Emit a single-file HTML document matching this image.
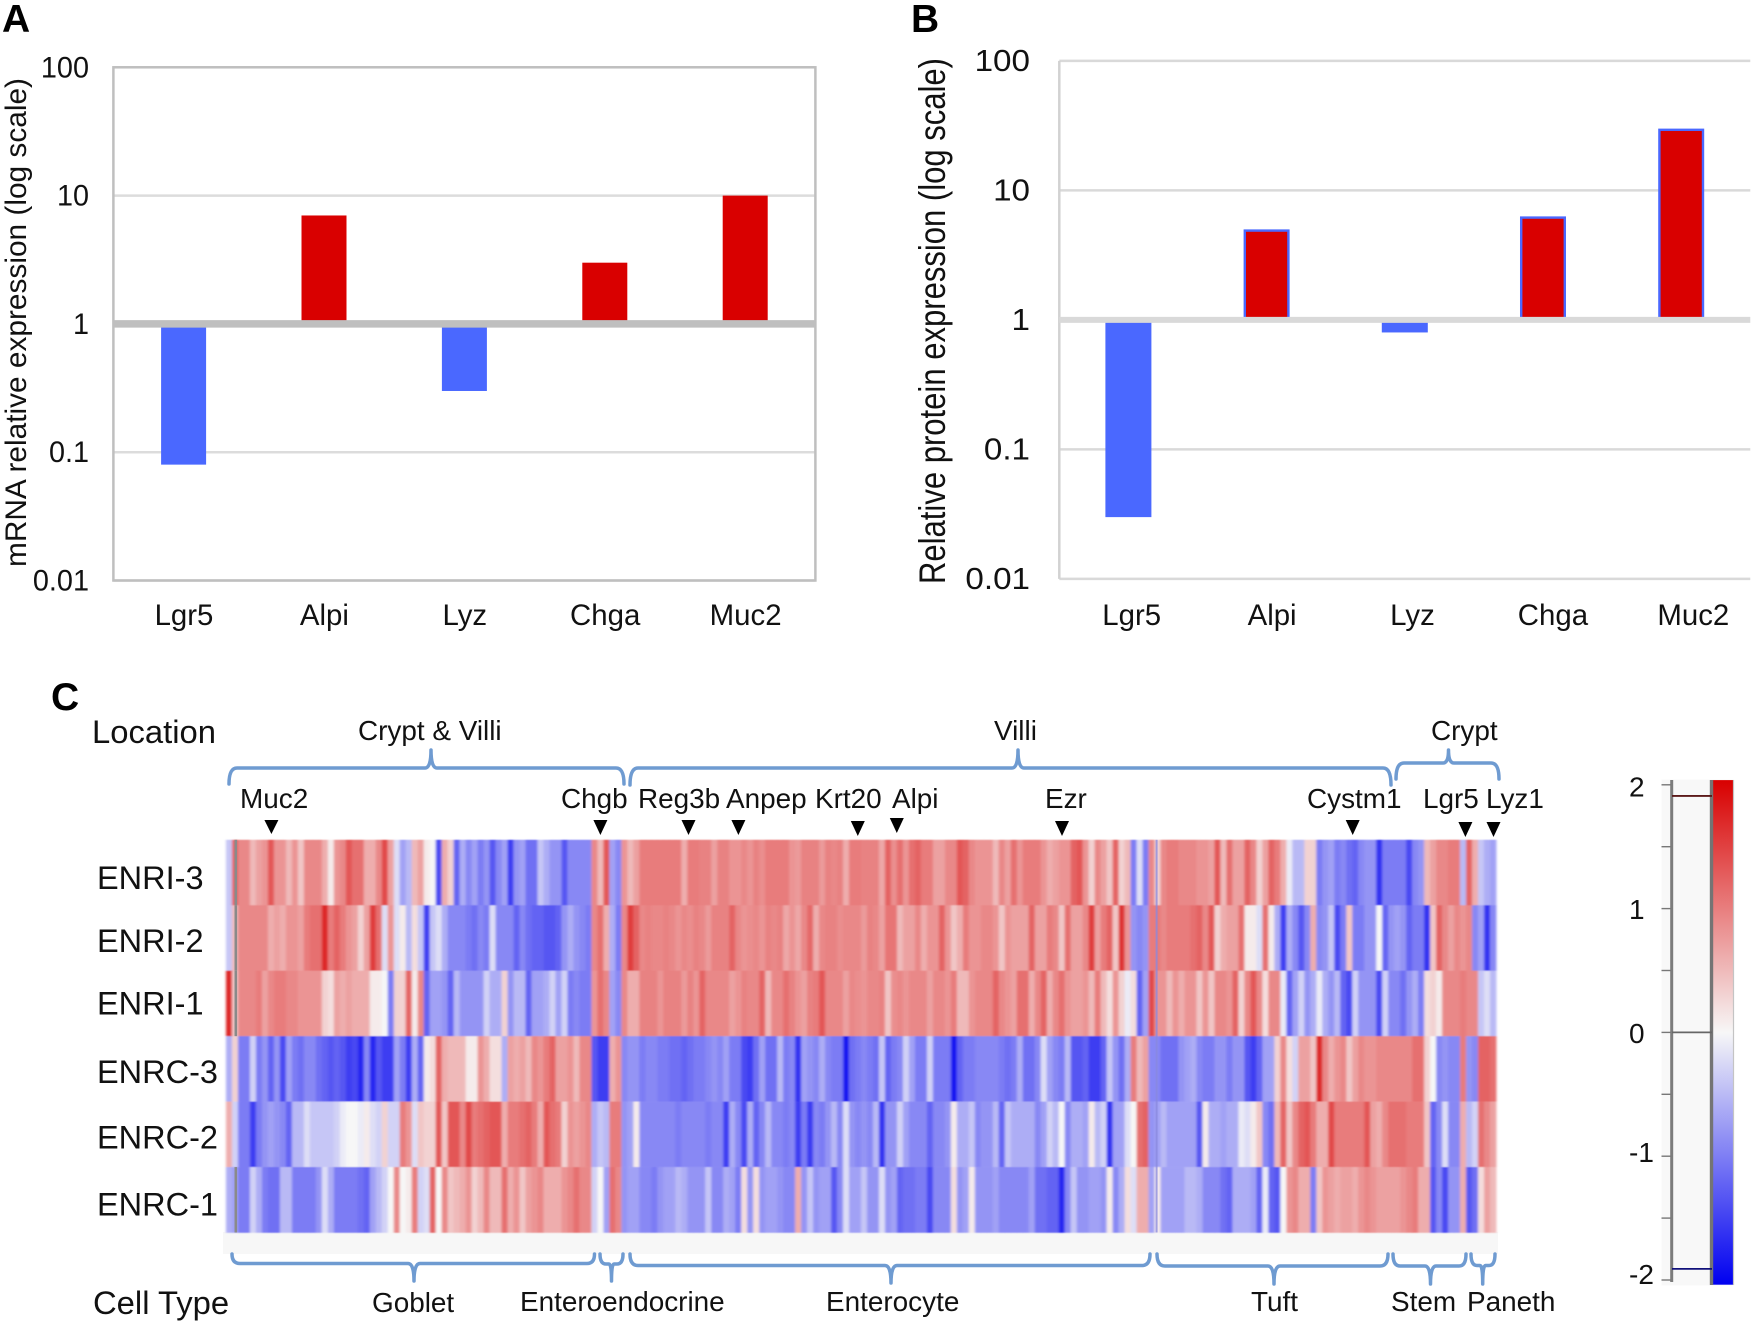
<!DOCTYPE html>
<html lang="en">
<head>
<meta charset="utf-8">
<title>mRNA and protein expression with heatmap</title>
<style>
html,body{margin:0;padding:0;background:#fff;}
svg{display:block;}
text{font-family:"Liberation Sans",sans-serif;fill:#111;}
.brace{fill:none;stroke:#6f9bd1;stroke-width:3.5;stroke-linejoin:round;stroke-linecap:round;}
.panel{font-weight:bold;font-size:39px;fill:#000;}
.big{font-size:32.8px;}
.mid{font-size:27.9px;}
</style>
</head>
<body>
<svg id="fig" xmlns="http://www.w3.org/2000/svg" width="1753" height="1325" viewBox="0 0 1753 1325">
  <defs>
    <filter id="soft" filterUnits="userSpaceOnUse" x="215" y="830" width="1295" height="412">
      <feGaussianBlur stdDeviation="1.2 0.4"/>
    </filter>
    <linearGradient id="cbar-grad" x1="0" y1="0" x2="0" y2="1"></linearGradient>
  </defs>
  <rect x="0" y="0" width="1753" height="1325" fill="#fff"/>

  <text class="panel" x="2" y="32">A</text>
  <text class="panel" x="911" y="32">B</text>
  <text class="panel" x="51" y="710">C</text>

  <g id="chart-a"></g>
  <g id="chart-b"></g>

  <text transform="translate(26,567) rotate(-90)" font-size="30" textLength="489" lengthAdjust="spacingAndGlyphs">mRNA relative expression (log scale)</text>
  <text transform="translate(945,584) rotate(-90)" font-size="37" textLength="526" lengthAdjust="spacingAndGlyphs">Relative protein expression (log scale)</text>

  <text class="big" x="92" y="743">Location</text>
  <text class="big" x="93" y="1314">Cell Type</text>

  <text class="mid" x="358" y="740">Crypt &amp; Villi</text>
  <text class="mid" x="994" y="740">Villi</text>
  <text class="mid" x="1431" y="740">Crypt</text>

  <path class="brace" d="M229 784 Q229 768 237 768 L425 768 Q431 768 431 750 Q431 768 437 768 L616 768 Q624 768 624 784"/>
  <path class="brace" d="M630 785 Q630 768 638 768 L1012 768 Q1018 768 1018 750 Q1018 768 1024 768 L1383 768 Q1391 768 1391 785"/>
  <path class="brace" d="M1396 779 Q1396 763 1404 763 L1443 763 Q1448.500 763 1448.500 750 Q1448.500 763 1454 763 L1491 763 Q1499 763 1499 779"/>

  <g>
    <text class="mid" x="240" y="808">Muc2</text>
    <text class="mid" x="561" y="808">Chgb</text>
    <text class="mid" x="638" y="808">Reg3b</text>
    <text class="mid" x="726" y="808">Anpep</text>
    <text class="mid" x="815" y="808">Krt20</text>
    <text class="mid" x="892" y="808">Alpi</text>
    <text class="mid" x="1045" y="808">Ezr</text>
    <text class="mid" x="1307" y="808">Cystm1</text>
    <text class="mid" x="1423" y="808">Lgr5</text>
    <text class="mid" x="1486" y="808">Lyz1</text>
  </g>
  <g fill="#000">
    <polygon points="264.400,820 278.400,820 271.400,834"/>
    <polygon points="593.400,820 607.400,820 600.400,835"/>
    <polygon points="681.500,820 695.500,820 688.500,835"/>
    <polygon points="731.400,820 745.400,820 738.400,835"/>
    <polygon points="850.800,821 864.800,821 857.800,836"/>
    <polygon points="889.800,818 903.800,818 896.800,833"/>
    <polygon points="1055,821 1069,821 1062,836"/>
    <polygon points="1345.700,820 1359.700,820 1352.700,835"/>
    <polygon points="1458.400,822 1472.400,822 1465.400,837"/>
    <polygon points="1486.500,822 1500.500,822 1493.500,837"/>
  </g>

  <rect x="223" y="1232" width="1275" height="22" fill="#f7f7f7"/>
  <g id="heatmap"></g>

  <path class="brace" d="M232 1254 Q232 1263.500 240 1263.500 L408 1263.500 Q414 1263.500 414 1281 Q414 1263.500 420 1263.500 L587 1263.500 Q594.500 1263.500 594.500 1254"/>
  <path class="brace" d="M600 1254 Q600 1264 606 1264 L609 1264 Q611.500 1264 611.500 1281 Q611.500 1264 614 1264 L617 1264 Q623 1264 623 1254"/>
  <path class="brace" d="M630 1254 Q630 1265.500 638 1265.500 L885 1265.500 Q891 1265.500 891 1283 Q891 1265.500 897 1265.500 L1142 1265.500 Q1150 1265.500 1150 1254"/>
  <path class="brace" d="M1157 1254 Q1157 1266 1165 1266 L1268 1266 Q1274 1266 1274 1284 Q1274 1266 1280 1266 L1380 1266 Q1388 1266 1388 1254"/>
  <path class="brace" d="M1393 1254 Q1393 1266 1400 1266 L1425 1266 Q1430.500 1266 1430.500 1284 Q1430.500 1266 1436 1266 L1459 1266 Q1466 1266 1466 1254"/>
  <path class="brace" d="M1471 1254 Q1471 1265.500 1477 1265.500 L1480 1265.500 Q1482.700 1265.500 1482.700 1284 Q1482.700 1265.500 1485.500 1265.500 L1489 1265.500 Q1495 1265.500 1495 1254"/>

  <text class="mid" x="372" y="1312">Goblet</text>
  <text class="mid" x="520" y="1311">Enteroendocrine</text>
  <text class="mid" x="826" y="1311">Enterocyte</text>
  <text class="mid" x="1251" y="1311">Tuft</text>
  <text class="mid" x="1391" y="1311">Stem</text>
  <text class="mid" x="1467" y="1311">Paneth</text>

  <g id="colorbar"></g>
</svg>

<script>
// ---- Panel A / B data ----
const geneCategories = ['Lgr5', 'Alpi', 'Lyz', 'Chga', 'Muc2'];
const mrnaValues = [0.08, 7, 0.3, 3, 10];
const proteinValues = [0.03, 5, 0.8, 6.3, 30];
const logTicks = [100, 10, 1, 0.1, 0.01];
const logTickLabels = ['100', '10', '1', '0.1', '0.01'];

// ---- Panel C data: one value per gene column (log-ratio scale) ----
const sampleNames = ['ENRI-3', 'ENRI-2', 'ENRI-1', 'ENRC-3', 'ENRC-2', 'ENRC-1'];
const enri3 = [
-.4,1.2,.9,.9,.5,.7,.8,1.3,.8,.8,.5,.8,.4,.9,.9,.9,.6,.1,.8,.9,1.3,1.1,1.1,.6,.6,.9,1.4,.7,-.2,-.7,-.5,.5,.7,.1,0,-1.4,.6,.3,-1.2,-.6,-.9,-.7,-1,-.8,-1.3,-.9,-.7,-1.5,-.8,
-.7,-1.1,-1.1,-.4,-.6,-.8,-.8,-1.3,-.9,-.9,-.9,-.9,.9,.5,1.3,-.7,-.9,.8,.5,.7,1,1,1,1,1,1,1,.6,1,1,
.95,.95,.7,.95,.95,.8,.8,.9,.8,.95,.85,1,1,1,1,.8,.75,.95,.95,.95,.75,.95,.9,.95,.6,1,1,.95,.95,.95,.65,1.2,.85,
1.1,.8,1.1,1.2,1,1,.7,.7,.9,.9,1.3,1.2,.9,.8,.8,.8,.5,.9,.7,1.1,.8,1,1,1,.8,.6,.7,.8,.8,1.2,1.3,.8,.3,.9,
.7,.4,1.2,.3,.5,-1,-.2,-1,.9,.3,.9,1,1,.9,.9,.9,.8,.8,.7,1.3,.5,1.1,.7,.7,1.2,.9,.3,.7,1.2,1,.6,-.1,-.5,
-.5,.3,.3,-1,-.8,-.7,-1,-.9,-1.1,-1.2,-.9,-.8,-.8,-1.6,-1,-1,-1,-1,-1.4,-.9,-.8,.5,.7,.9,.9,1,1,-.5,1.2,.6,-.4,-.6,-.7];
const enri2 = [
-.4,.5,.9,.9,.9,.9,.9,.6,.7,.6,.8,.8,.7,1,1.1,1.1,1.7,1,1.2,1,.8,.7,.3,.7,1.5,1.1,-.2,.8,-.2,.1,-.5,.2,-.4,-1.5,-.4,-.2,-.6,-.9,-.9,-.9,-1,-1.1,-.9,-1,-.2,-.9,-.9,-.9,-1.2,
-.9,-1.1,-1.2,-1.2,-1.3,-1.3,-1.2,-.8,-.6,-.8,-.9,-1,.9,1.1,.6,-.6,-1,.9,1.5,1.2,.9,.95,.9,.9,.95,.9,.8,.9,.85,.95,
.9,.75,.95,.95,.95,1.2,.9,.8,.85,.9,.8,.95,.9,.95,.65,.8,.65,.9,1.15,.6,.9,.95,.95,.85,.9,.9,.9,.75,.95,.9,.7,1.05,1.05,
.5,.7,.7,.9,.6,.8,.8,1.2,.8,.4,.6,1,.8,.8,.9,.9,.8,.4,.8,.7,.7,.7,1.2,.7,.7,1,.9,.4,1.1,.7,.7,.9,1.5,.7,
1,1.2,.4,1.6,.8,-.8,-.9,-.8,1,1,.9,1,1,1,1,1.1,1.2,.9,1.3,.3,.6,.7,.7,1.1,.1,.1,-.2,1.1,.1,-.6,-1.5,-.6,-.9,
-1.3,-.9,.6,-.9,-.8,-.4,-1.4,-1,.4,-1,-1,-.8,-.8,0,-1.2,-.8,-.7,-.8,-1.2,-1,-1,-1.6,.4,1.2,.9,.7,.9,.8,.9,-.9,-.7,-1.6,-.9];
const enri1 = [
1.7,.4,.9,.9,.9,1,.7,.9,1,1,.9,.9,.8,.8,.8,.8,.3,.2,.7,.6,.7,.6,.6,.6,.1,.1,0,-1,.3,.3,1.2,.1,.9,-1.2,-.7,-.7,-.8,-1.2,-.5,-.8,-.8,-.8,-.8,-.3,-.6,-.6,.3,-.8,-.5,
-.5,-1.2,-.7,-.7,-.6,-.3,-.7,-.3,-1,-.9,-1,-1,.8,1.1,.9,-.7,-.9,.9,.6,.6,.95,.95,.95,.8,.95,.95,.95,.75,.95,.8,
1.2,.9,.9,.9,.9,.7,.8,.95,.9,.9,1.2,.5,.9,.9,1.1,.95,.8,.7,.95,1,1.3,.9,.9,.9,.7,.9,.85,.8,.9,.9,.95,.4,.85,
.9,.8,.9,.9,.9,.7,.9,.9,.8,1,.5,.5,.8,.9,.9,.9,1.2,.9,.8,.7,1.1,1.1,.6,.9,1.2,.6,.9,1.1,.8,.7,.7,.8,.5,1,
.5,.2,.8,.3,-.1,.2,-1.2,-.7,1.4,.8,.8,.5,.8,.6,.8,.8,.4,.8,.4,.9,.9,.8,1.2,.3,.9,1.3,.9,.2,.9,.9,-.1,-1.2,-.7,
-.3,-.8,-.6,-.1,-.6,-.8,-.5,-1.2,-1.4,-.3,-.8,-.8,-.8,-1.4,-.3,-.9,-.9,-1.1,-.8,-.6,-1,.2,.3,.1,.9,.9,.9,1,.9,.9,-.4,-.2,-.5];
const enrc3 = [
-.6,.3,-1,-1,-.3,-1,-.8,-1.2,-.8,-1.4,-.7,-1,-1.1,-.9,-.9,-1.1,-1.2,-1.3,-1.2,-1.3,-1.5,-1.4,-1.7,-.9,-1.7,-1.3,-1.5,-1.5,-.7,-1,-1.5,-.6,-1.2,.1,.2,1.2,.6,.5,.5,.5,.1,.1,.8,.6,.2,.2,-.6,.7,.6,
.7,.5,.9,.8,1,1.2,.7,.7,.8,.5,.9,.9,-1.3,-1.5,-1.5,.6,.8,-.9,-.8,-.8,-1,-.9,-.9,-1,-1,-1.1,-1.1,-1.2,-1.1,-1,
-1,-.9,-.8,-.9,-.7,-1,-1,-1.4,-1.5,-1.1,-.7,-1.1,-1.1,-.5,-1,-.9,-1.6,-.7,-.8,-.9,-.6,-.9,-1,-1,-1.8,-1.1,-1,-.9,-1,-1.1,-.4,-1.2,-1,
-.9,-.3,-.7,-1,-1,-.3,-1,-1,-1,-1.8,-1.2,-1,-1,-.9,-.9,-.9,-.9,-1,-1.1,-1,-.6,-1.1,-1.1,-.9,-.2,-.7,-.9,-1,-.5,-1.3,-1.3,-1.2,-1.5,-1.5,
-1.2,-.4,-.8,-1.1,-.6,1,.5,.7,-.9,-.9,-1.1,-1.1,-1.1,-.8,-.7,-.6,-.9,-1,-1,-.8,-.8,-1,-.8,-.8,-1.3,-1.5,-1.2,-.7,-.7,.3,.9,.2,-.3,
.7,.7,.4,1.7,.9,.6,.8,.9,.4,.7,.9,.8,.8,.9,.9,.9,.9,.9,.9,1.1,1.1,.3,0,-.9,-.8,-.9,-.9,1,-.8,-.9,1.2,1.2,1.1];
const enrc2 = [
.6,-.3,-1,-1,-1.5,-1,-.8,-.7,-.8,-.9,-1.2,-.5,-.5,-.2,-.4,-.4,-.4,-.4,-.3,-.1,0,0,-.1,.1,-.2,-.3,.3,-.3,-.3,1,.8,-.2,.4,.3,.3,1.3,.4,1.3,1.3,.9,1.4,1,1.1,1.2,1.3,1.3,.6,1,1,
1.1,1.2,1,.6,1.3,1.1,1,.3,.8,.7,.8,.9,-.6,-.4,-.5,1,1,-.8,-.7,.1,-.9,-.9,-.9,-.9,-.9,-.9,-1,-.9,-.9,-.9,
-.9,-1,-.9,-.9,-1.5,-.6,-.9,-1.4,-.6,-1.2,-.9,-.5,-.9,-.9,-1,-.9,-1.5,-1,-1.5,-.9,-1,-.8,-.5,-.9,-.2,-.8,-.9,-.8,-.9,-.5,-1.6,-.8,-.8,
-.3,-.7,-.9,-.9,-.9,-1.2,-.9,-.9,-.8,.1,-.6,-.6,-.4,-.9,-.8,-.8,-.5,-1.2,-.4,-.6,-.6,-.6,-.6,-.9,-.7,-.3,-.5,0,-.9,-.6,-.6,-.7,.1,-.5,
-.3,-1.6,-.7,-.7,-.2,0,1.1,1.2,-.8,-.7,-.5,-.7,-.7,-.7,-.7,-.7,-1.3,.1,-.6,-.6,-.7,-.6,-.6,-.1,-.2,.1,.4,-.9,-1.1,.5,1.2,.4,.9,
1.2,1.3,1,.6,.6,1.4,1,1,1,1,1,1.3,.7,.6,.9,1.1,1.1,1.1,1,1,1,.4,-1.2,-.9,-.2,-.9,-.9,.6,-.5,-.3,1.1,.9,.7];
const enrc1 = [
-.6,-.7,-1,-1,-.3,-.6,-1,-1.1,-1.1,-.5,-.5,-1,-1,-1,-1,-.8,-.2,-.6,-1,-1,-1,-1,-1.1,-1.2,-.7,-.5,-.3,0,.9,0,.1,1,-.3,-.2,1.2,0,.9,.4,.5,.6,.8,.3,.5,.9,.5,.5,1.1,.6,.8,
.4,.7,.8,.9,.6,.6,.6,.8,.9,1.1,.9,.9,-.3,0,-.7,1.1,.9,-.8,-.7,-.7,-.9,-.9,-1,-.8,-.7,-.7,-.5,-.6,-.8,-.8,
-.8,-.4,-.9,-.9,-.6,-.7,-1,.2,-.8,.2,-.8,-.7,-.7,-.8,-.9,-.9,.6,-.8,-.4,-.8,-.7,-.7,-1.3,-.9,-.2,-.7,-.7,-.4,-.8,-.8,-.2,-.8,-.7,
-1.2,-1.1,-1.1,-1,-1,-1.4,-.9,-.9,-.9,.2,-.8,-.7,.1,-.8,-.8,-.8,-.7,-.9,-.9,-.9,-.9,-.9,-.7,-1.1,-1.1,-1.2,-1.2,-1.7,-.9,-.4,-.8,-.8,-.7,-.7,
-.8,.1,-.9,-.6,.2,-.2,.6,.6,-.7,.1,-.7,-.7,-.7,-.7,-.5,-.5,-.6,-.9,-.9,-.9,-1.1,-1.2,-.6,-.6,-.6,-.7,-1.2,-.1,-1.2,-1.3,0,.8,.9,
.6,.6,-1,.4,.8,.7,.6,.7,.7,.6,.8,.9,.8,.7,.7,.7,.7,.8,.9,1,.6,.6,-1.3,-.9,-1.4,-.8,-.8,.6,-1.3,-1.1,.2,.7,.5];
const sampleRows = [enri3, enri2, enri1, enrc3, enrc2, enrc1];
const scaleTicks = [2, 1.5, 1, 0.5, 0, -0.5, -1, -1.5, -2];
const scaleTickLabels = ['2', '', '1', '', '0', '', '-1', '', '-2'];
const scaleMarkers = [1.91, 0, -1.91];

const NS = 'http://www.w3.org/2000/svg';
function mk(parent, tag, attrs, txt) {
  const el = document.createElementNS(NS, tag);
  for (const k in attrs) el.setAttribute(k, attrs[k]);
  if (txt !== undefined) el.textContent = txt;
  parent.appendChild(el);
  return el;
}
function stretch(el, k) {
  el.setAttribute('textLength', (el.getComputedTextLength() * k).toFixed(1));
  el.setAttribute('lengthAdjust', 'spacingAndGlyphs');
}

// ---- Log-scale bar charts ----
function drawBars(root, cfg, values) {
  const y = v => cfg.y1 - cfg.decade * Math.log10(v);
  const band = (cfg.right - cfg.left) / geneCategories.length;
  const x = i => cfg.left + band * (i + 0.5);

  logTicks.forEach((t, i) => {
    const isOne = t === 1;
    if (!isOne) {
      const g = mk(root, 'line', {x1: cfg.left, x2: cfg.right, y1: y(t), y2: y(t), stroke: cfg.gridColor, 'stroke-width': 2.5});
      
      
    }
    const lab = mk(root, 'text', {x: cfg.tickRight, y: y(t) + cfg.tickDy, 'font-size': cfg.tickFont, 'text-anchor': 'end'}, logTickLabels[i]);
    
    
    stretch(lab, cfg.tickStretch);
  });

  if (cfg.boxed) {
    const b = mk(root, 'rect', {x: cfg.left, y: y(100), width: cfg.right - cfg.left, height: y(0.01) - y(100), fill: 'none', stroke: cfg.axisColor, 'stroke-width': 2.5});
    
    
  } else {
    const a = mk(root, 'line', {x1: cfg.left, x2: cfg.left, y1: y(100), y2: y(0.01), stroke: cfg.axisColor, 'stroke-width': 2.5});
    
    
  }

  values.forEach((v, i) => {
    const up = v >= 1;
    const top = Math.min(y(v), y(1));
    const h = Math.abs(y(v) - y(1));
    const attrs = {x: x(i) - cfg.barW / 2, y: top, width: cfg.barW, height: h, fill: up ? '#d90000' : '#4a68ff'};
    if (cfg.outline && up) {
      attrs.x += 1.2; attrs.width -= 2.4; attrs.y += 1.2; attrs.height -= 1.2;
      attrs.stroke = '#4a68ff';
      attrs['stroke-width'] = 2.4;
    }
    const bar = mk(root, 'rect', attrs);
    
    
    const lab = mk(root, 'text', {x: cfg.labelStart + cfg.labelStep * i, y: 625, 'font-size': 30, 'text-anchor': 'middle'}, geneCategories[i]);
    
    
    stretch(lab, 0.98);
  });

  const base = mk(root, 'line', {x1: cfg.left, x2: cfg.right, y1: y(1), y2: y(1), stroke: cfg.baseColor, 'stroke-width': cfg.baseW});
  
  
}

drawBars(document.getElementById('chart-a'), {
  left: 113.4, right: 815.4, y1: 323.9, decade: 128.3, barW: 45,
  tickRight: 89, tickDy: 10, tickFont: 30, tickStretch: 0.96, labelStart: 184, labelStep: 140.4,
  gridColor: '#dcdcdc', axisColor: '#bfbfbf', baseColor: '#bfbfbf', baseW: 7.5,
  boxed: true, outline: false
}, mrnaValues);

drawBars(document.getElementById('chart-b'), {
  left: 1059.3, right: 1750.3, y1: 319.9, decade: 129.5, barW: 46,
  tickRight: 1030, tickDy: 10, tickFont: 31, tickStretch: 1.07, labelStart: 1131.7, labelStep: 140.4,
  gridColor: '#d9d9d9', axisColor: '#d2d2d2', baseColor: '#d9d9d9', baseW: 6,
  boxed: false, outline: true
}, proteinValues);

// ---- Heatmap ----
const WHITE = [247, 247, 247], RED = [216, 0, 0], BLUE = [0, 0, 240];
function colorOf(v) {
  const t = Math.min(1, Math.abs(v) / 2);
  const end = v >= 0 ? RED : BLUE;
  const c = WHITE.map((w, i) => Math.round(w + (end[i] - w) * t));
  return 'rgb(' + c.join(',') + ')';
}
const hm = document.getElementById('heatmap');
const hmGroup = mk(hm, 'g', {filter: 'url(#soft)'});


const HX = 226, HW = 1270, HY = 839.8, RH = 65.45;
sampleRows.forEach((row, r) => {
  const cw = HW / row.length;
  row.forEach((v, c) => {
    const cell = mk(hmGroup, 'rect', {x: (HX + c * cw).toFixed(2), y: (HY + r * RH).toFixed(2), width: (cw + 0.4).toFixed(2), height: (RH + 0.3).toFixed(2), fill: colorOf(v)});
    
    
  });
  const lab = mk(hm, 'text', {x: 97, y: [889, 952, 1014.5, 1083, 1148.5, 1215.5][r], 'font-size': 32.5}, sampleNames[r]);
  
  
});
[0, 1, 2, 5].forEach(r => {
  const s = mk(hm, 'rect', {x: 234.5, y: HY + r * RH, width: 2.6, height: RH, fill: '#8a8a8a'});
  
  
});
const sep = mk(hm, 'rect', {x: 1155.6, y: HY, width: 2, height: RH * 6, fill: '#8888dd', opacity: 0.75});



// ---- Colour scale ----
const cb = document.getElementById('colorbar');
const cbY = v => 1032.4 - 123.8 * v;
const grad = document.getElementById('cbar-grad');
scaleTicks.forEach((v, i) => {
  mk(grad, 'stop', {offset: (i / (scaleTicks.length - 1)), 'stop-color': colorOf(v)});
});
const strip = mk(cb, 'rect', {x: 1661.5, y: 779.5, width: 72, height: 506, fill: '#f8f8f8'});


const cbar = mk(cb, 'rect', {x: 1712.7, y: cbY(2) - 4.7, width: 20.6, height: cbY(-2) - cbY(2) + 9.4, fill: 'url(#cbar-grad)'});


const edge = mk(cb, 'line', {x1: 1733.5, x2: 1733.5, y1: 780, y2: 1285, stroke: '#c4c4c4', 'stroke-width': 1.2});


const axisL = mk(cb, 'line', {x1: 1671.7, x2: 1671.7, y1: 780, y2: 1282, stroke: '#7c7c7c', 'stroke-width': 3});


const axisR = mk(cb, 'line', {x1: 1711.5, x2: 1711.5, y1: 780, y2: 1285, stroke: '#747474', 'stroke-width': 3.4});


scaleTicks.forEach((v, i) => {
  const t = mk(cb, 'line', {x1: 1661.5, x2: 1671, y1: cbY(v), y2: cbY(v), stroke: '#777', 'stroke-width': 1.4});
  
  
  if (scaleTickLabels[i]) {
    const l = mk(cb, 'text', {x: 1629, y: cbY(v) + [11.5, 0, 10.5, 0, 10.5, 0, 6, 0, 4][i], 'font-size': 28}, scaleTickLabels[i]);
    
    
  }
});
const markerColors = ['#5c1a1a', '#666666', '#10107a'];
scaleMarkers.forEach((v, i) => {
  const m = mk(cb, 'line', {x1: 1672, x2: 1712, y1: cbY(v), y2: cbY(v), stroke: markerColors[i], 'stroke-width': 1.8});
  
  
});
</script>
</body>
</html>
